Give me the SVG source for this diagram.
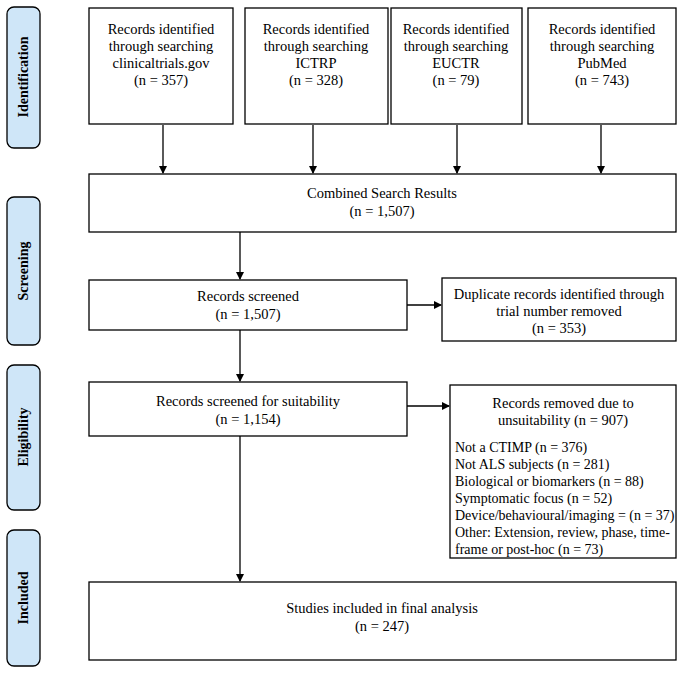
<svg xmlns="http://www.w3.org/2000/svg" width="685" height="675" viewBox="0 0 685 675">
<defs><marker id="a" markerWidth="8" markerHeight="8" refX="7" refY="4" orient="auto" markerUnits="userSpaceOnUse"><path d="M0,0 L8,4 L0,8 z" fill="#000"/></marker></defs>
<style>
.b{fill:#fff;stroke:#000;stroke-width:1.3}
.s{fill:#cfe6f8;stroke:#000;stroke-width:1.3}
text{font-family:'Liberation Serif','Times New Roman','DejaVu Serif',serif;font-size:14.5px;fill:#000;text-anchor:middle}
.v{font-weight:bold;font-size:14px}
.l{text-anchor:start;font-size:14px}
.c line{stroke:#000;stroke-width:1.3;marker-end:url(#a)}
</style>
<rect width="685" height="675" fill="#fff"/>
<g id="side-identification"><rect class="s" x="7" y="7" width="33" height="141" rx="7"/><text class="v" transform="translate(28,77) rotate(-90)">Identification</text></g>
<g id="side-screening"><rect class="s" x="7" y="197" width="33" height="148" rx="7"/><text class="v" transform="translate(28,271) rotate(-90)">Screening</text></g>
<g id="side-eligibility"><rect class="s" x="7" y="365" width="33" height="145" rx="7"/><text class="v" transform="translate(28,437) rotate(-90)">Eligibility</text></g>
<g id="side-included"><rect class="s" x="7" y="530" width="33" height="136" rx="7"/><text class="v" transform="translate(28,598) rotate(-90)">Included</text></g>
<g id="n1"><rect class="b" x="89" y="8" width="144" height="116"/><text x="161" y="34">Records identified</text><text x="161" y="51">through searching</text><text x="161" y="68">clinicaltrials.gov</text><text x="161" y="85">(n = 357)</text></g>
<g id="n2"><rect class="b" x="245" y="8" width="143" height="116"/><text x="316" y="34">Records identified</text><text x="316" y="51">through searching</text><text x="316" y="68">ICTRP</text><text x="316" y="85">(n = 328)</text></g>
<g id="n3"><rect class="b" x="391" y="8" width="131" height="116"/><text x="456" y="34">Records identified</text><text x="456" y="51">through searching</text><text x="456" y="68">EUCTR</text><text x="456" y="85">(n = 79)</text></g>
<g id="n4"><rect class="b" x="528" y="8" width="148" height="116"/><text x="602" y="34">Records identified</text><text x="602" y="51">through searching</text><text x="602" y="68">PubMed</text><text x="602" y="85">(n = 743)</text></g>
<g id="combined"><rect class="b" x="89" y="174" width="587" height="58"/><text x="382" y="198">Combined Search Results</text><text x="382" y="216">(n = 1,507)</text></g>
<g id="screened"><rect class="b" x="89" y="280" width="318" height="50"/><text x="248" y="301">Records screened</text><text x="248" y="319">(n = 1,507)</text></g>
<g id="duplicates"><rect class="b" x="442" y="278" width="234" height="63"/><text x="559" y="299">Duplicate records identified through</text><text x="559" y="316">trial number removed</text><text x="559" y="333">(n = 353)</text></g>
<g id="suitability"><rect class="b" x="89" y="382" width="318" height="54"/><text x="248" y="406">Records screened for suitability</text><text x="248" y="424">(n = 1,154)</text></g>
<g id="removed"><rect class="b" x="450" y="385" width="226" height="173"/><text x="563" y="408">Records removed due to</text><text x="563" y="425">unsuitability (n = 907)</text>
<text class="l" x="455" y="452">Not a CTIMP (n = 376)</text><text class="l" x="455" y="469">Not ALS subjects (n = 281)</text><text class="l" x="455" y="486">Biological or biomarkers (n = 88)</text><text class="l" x="455" y="503">Symptomatic focus (n = 52)</text><text class="l" x="455" y="520">Device/behavioural/imaging = (n = 37)</text><text class="l" x="455" y="537">Other: Extension, review, phase, time-</text><text class="l" x="455" y="554">frame or post-hoc (n = 73)</text></g>
<g id="final"><rect class="b" x="89" y="582" width="587" height="78"/><text x="382" y="613">Studies included in final analysis</text><text x="382" y="631">(n = 247)</text></g>
<g id="connectors" class="c">
<line x1="163" y1="125" x2="163" y2="173"/><line x1="313" y1="125" x2="313" y2="173"/><line x1="457" y1="125" x2="457" y2="173"/><line x1="601" y1="125" x2="601" y2="173"/>
<line x1="240" y1="232" x2="240" y2="279"/><line x1="407" y1="305" x2="441" y2="305"/><line x1="240" y1="330" x2="240" y2="381"/><line x1="407" y1="406" x2="449" y2="406"/><line x1="240" y1="436" x2="240" y2="581"/>
</g>
</svg>
